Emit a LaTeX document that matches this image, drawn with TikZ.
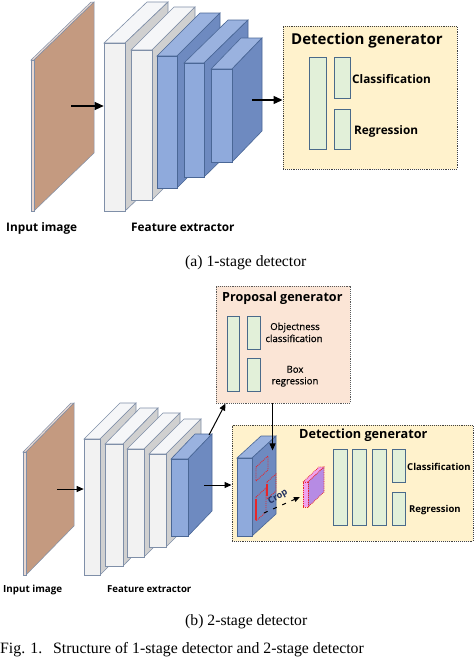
\documentclass[tikz,border=0pt]{standalone}
\usepackage{fontspec}
\setmainfont{Liberation Serif}
\newfontfamily\lab{Open Sans}
\newfontfamily\labsb[FakeBold=0.6]{Open Sans}
\usetikzlibrary{arrows.meta,fit}
\definecolor{cWfront}{HTML}{F2F2F2}
\definecolor{cWtop}{HTML}{F5F6F8}
\definecolor{cWside}{HTML}{D0D0D0}
\definecolor{cWline}{HTML}{7F8FA8}
\definecolor{cBfront}{HTML}{8FAADC}
\definecolor{cBtop}{HTML}{9AB2DF}
\definecolor{cBside}{HTML}{6E8AC0}
\definecolor{cBline}{HTML}{4A6796}
\definecolor{cImg}{HTML}{C49A80}
\definecolor{cImgEdge}{HTML}{EAD8D0}
\definecolor{cDet}{HTML}{FFF2CC}
\definecolor{cProp}{HTML}{FBE5D6}
\definecolor{cBar}{HTML}{E2F0D9}
\definecolor{cBarLine}{HTML}{4A6A8A}
\definecolor{cRed}{HTML}{E8262A}
\definecolor{cPinkF}{HTML}{F0A3EE}
\definecolor{cPinkS}{HTML}{B68BE4}
\definecolor{cCrop}{HTML}{1F2F5F}
\tikzset{
  wfront/.style={fill=cWfront,draw=cWline,line width=0.6pt},
  wtop/.style={fill=cWtop,draw=cWline,line width=0.6pt},
  wside/.style={fill=cWside,draw=cWline,line width=0.6pt},
  bfront/.style={fill=cBfront,draw=cBline,line width=0.6pt},
  btop/.style={fill=cBtop,draw=cBline,line width=0.6pt},
  bside/.style={fill=cBside,draw=cBline,line width=0.6pt},
  ifront/.style={fill=cImgEdge,draw=cWline,line width=0.5pt},
  itop/.style={fill=cImgEdge,draw=cWline,line width=0.5pt},
  iside/.style={fill=cImg,draw=cWline,line width=0.5pt},
  pfront/.style={fill=cPinkF,draw=cRed,densely dotted,line width=0.8pt},
  ptop/.style={fill=cPinkF,draw=cRed,densely dotted,line width=0.8pt},
  pside/.style={fill=cPinkS,draw=cRed,densely dotted,line width=0.8pt},
  detbox/.style={fill=cDet,draw=black!75,densely dotted,line width=0.9pt},
  propbox/.style={fill=cProp,draw=black!65,densely dotted,line width=0.9pt},
  bar/.style={fill=cBar,draw=cBarLine,line width=0.7pt},
  arrA/.style={-{Triangle[length=9pt,width=8pt]},line width=1.2pt},
  arrB/.style={-{Triangle[length=7pt,width=6pt]},line width=1pt},
  lbl/.style={inner sep=0pt,anchor=base west},
  redbox/.style={draw=cRed,densely dotted,line width=0.9pt},
  redline/.style={draw=cRed,line width=1.2pt},
}
\newcommand\cuboid[8]{%
  \filldraw[#7top] (#1,#2) -- (#1+#5,#2-#6) -- (#3+#5,#2-#6) -- (#3,#2) -- cycle;
  \filldraw[#7side] (#3,#2) -- (#3+#5,#2-#6) -- (#3+#5,#4-#6) -- (#3,#4) -- cycle;
  \node[#7front,fit={(#1,#2) (#3,#4)},inner sep=0pt] (#8) {};
}
\newcommand\boxat[6]{\node[#2,fit={(#3,#4) (#5,#6)},inner sep=0pt] (#1) {};}
\begin{document}
\begin{tikzpicture}[x=1pt,y=-1pt]
\useasboundingbox (0,0) rectangle (474,659);
% ---------------- (a) ----------------
\cuboid{31}{60}{34}{211}{60}{58}{i}{aIn}
\cuboid{104}{43}{125}{211}{43}{41}{w}{aB1}
\cuboid{131}{50}{152}{200}{43}{43}{w}{aB2}
\cuboid{157}{56}{177}{188}{43}{43}{b}{aB3}
\cuboid{184}{63}{204}{177}{44}{43}{b}{aB4}
\cuboid{211}{69}{232}{162}{30}{31}{b}{aB5}
\boxat{aDet}{detbox}{283}{26}{457}{169}
\boxat{aBarA}{bar}{309}{57}{326}{149}
\boxat{aBarB}{bar}{334}{57}{350}{98}
\boxat{aBarC}{bar}{334}{109}{350}{149}
\coordinate (aInA) at (71,106);
\draw[arrA] (aInA) -- (aB1.west |- aInA);
\coordinate (aOutA) at (252,100);
\draw[arrA] (aOutA) -- (aDet.west |- aOutA);
\node[lbl,font=\lab\bfseries\fontsize{15}{18}\selectfont] (aDetT) at (291,44) {Detection generator};
\node[lbl,font=\lab\bfseries\fontsize{11.8}{14}\selectfont] (aCls) at (352,83) {Classification};
\node[lbl,font=\lab\bfseries\fontsize{11.8}{14}\selectfont] (aReg) at (354,134) {Regression};
\node[lbl,font=\lab\bfseries\fontsize{11.8}{14}\selectfont] (aInT) at (6,231.5) {Input image};
\node[lbl,font=\lab\bfseries\fontsize{11.8}{14}\selectfont] (aFeT) at (131,231.5) {Feature extractor};
\node[lbl,font=\fontsize{15.7}{18}\selectfont] (aCap) at (185,266.5) {(a) 1-stage detector};
% ---------------- (b) ----------------
\cuboid{23}{452}{26}{575}{48}{49}{i}{bIn}
\cuboid{84}{439}{100}{575}{36}{36}{w}{bB1}
\cuboid{105}{444}{123}{566}{35}{36}{w}{bB2}
\cuboid{127}{449}{144}{557}{36}{36}{w}{bB3}
\cuboid{149}{454}{166}{547}{35}{35}{w}{bB4}
\cuboid{171}{459}{188}{536}{24}{25}{b}{bB5}
\boxat{bProp}{propbox}{216}{286}{350}{403}
\boxat{bPBarA}{bar}{227}{316}{239}{391}
\boxat{bPBarB}{bar}{247}{316}{260}{349}
\boxat{bPBarC}{bar}{247}{358}{260}{391}
\boxat{bDet}{detbox}{232}{425}{473}{541}
\boxat{bDBarA}{bar}{333}{449}{347}{525}
\boxat{bDBarB}{bar}{352}{449}{366}{525}
\boxat{bDBarC}{bar}{372}{449}{386}{525}
\boxat{bDBarD}{bar}{392}{449}{405}{482}
\boxat{bDBarE}{bar}{392}{492}{405}{525}
\cuboid{237}{458}{252}{536}{24}{22}{b}{bFM}
% red regions on the feature map
\draw[redbox] (256,467) -- (268,456) -- (268,470) -- (256,481) -- cycle;
\draw[redbox] (267,482) -- (276,474) -- (276,491) -- (267,499) -- cycle;
\draw[redbox] (256,497) -- (266,488) -- (266,512) -- (256,521) -- cycle;
\draw[redline] (267,484) -- (267,496);
\draw[redline] (256,499) -- (256,520);
\cuboid{303}{482}{308}{507}{16}{15}{p}{bCrop}
\coordinate (cropS) at (264,513);
\draw[dash pattern=on 4pt off 6pt,line width=1pt,-{Triangle[length=6pt,width=5pt]},shorten >=3pt] (cropS) -- (bCrop);
\node[inner sep=0pt,rotate=30,text=cCrop,font=\lab\bfseries\fontsize{9}{11}\selectfont] (cropT) at (278,497) {Crop};
\coordinate (bInA) at (57,489);
\draw[arrB] (bInA) -- (bB1.west |- bInA);
\coordinate (bOutA) at (204,485);
\draw[arrB] (bOutA) -- (bDet.west |- bOutA);
\coordinate (bUpA) at (209,435);
\draw[arrB] (bUpA) -- ([xshift=10pt]bProp.south west);
\draw[arrB] ([xshift=57pt]bProp.south west) -- ++(0,47);
\node[lbl,font=\lab\bfseries\fontsize{12.6}{15}\selectfont] (bPropT) at (222,301.5) {Proposal generator};
\node[inner sep=0pt,anchor=base,font=\labsb\fontsize{9.6}{11}\selectfont] (bObj1) at (295,330) {Objectness};
\node[inner sep=0pt,anchor=base,font=\labsb\fontsize{9.6}{11}\selectfont] (bObj2) at (294,342) {classification};
\node[inner sep=0pt,anchor=base,font=\labsb\fontsize{9.6}{11}\selectfont] (bBox1) at (295,372.7) {Box};
\node[inner sep=0pt,anchor=base,font=\labsb\fontsize{9.6}{11}\selectfont] (bBox2) at (295,384.3) {regression};
\node[lbl,font=\lab\bfseries\fontsize{12.7}{15}\selectfont] (bDetT) at (299,438.3) {Detection generator};
\node[lbl,font=\lab\bfseries\fontsize{9.5}{11}\selectfont] (bCls) at (407,470) {Classification};
\node[lbl,font=\lab\bfseries\fontsize{9.5}{11}\selectfont] (bReg) at (409,512) {Regression};
\node[lbl,font=\lab\bfseries\fontsize{9.8}{12}\selectfont] (bInT) at (3,592.3) {Input image};
\node[lbl,font=\lab\bfseries\fontsize{9.6}{12}\selectfont] (bFeT) at (107,592.3) {Feature extractor};
\node[lbl,font=\fontsize{15.7}{18}\selectfont] (bCap) at (185,625) {(b) 2-stage detector};
\node[lbl,font=\fontsize{15.8}{18}\selectfont] (fig) at (0,653) {Fig. 1.};
\node[lbl,font=\fontsize{15.8}{18}\selectfont] (figT) at (53,653) {Structure of 1-stage detector and 2-stage detector};
\end{tikzpicture}
\end{document}
